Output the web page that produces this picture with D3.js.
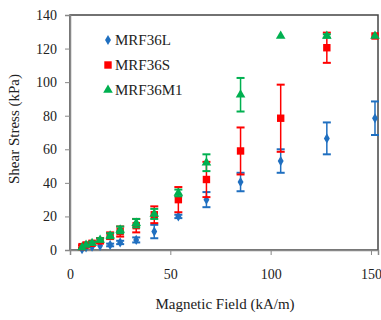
<!DOCTYPE html>
<html lang="en">
<head>
    <script src="https://cdn.jsdelivr.net/npm/d3@7"></script>
    <style>
        body { margin: 0; background: #fff; }
    </style>
</head>
<body>
<div id="chart"></div>
<script>
    // magnetic field values (kA/m)
    var field = [6, 8, 11, 15, 20, 25, 33, 42, 54, 68, 85, 105, 128, 152]

    // shear stress (kPa) and error bars for each fluid
    var mrf36L = [0.5, 1.5, 2, 2.5, 3, 4.5, 6, 11, 20, 30, 40.5, 53, 66.5, 78.5]
    var mrf36LErr = [0.5, 0.5, 0.5, 0.5, 0.8, 1, 1.5, 4, 1, 4.5, 5.5, 7, 9.5, 10]
    var mrf36S = [2, 3, 4, 5.5, 8.5, 11, 14.5, 21, 30, 42, 59, 78.5, 120.5, 127.5]
    var mrf36SErr = [0.8, 1, 1, 1.5, 2, 3, 4, 5, 7.5, 10.5, 14, 20, 9, 0.5]
    var mrf36M1 = [1.5, 3, 4, 6, 8.5, 12, 16, 21.5, 34, 52, 92.5, 127.5, 127.5, 127.5]
    var mrf36M1Err = [0.5, 0.5, 1, 1, 1.5, 2, 2.5, 3, 2, 5, 10, 0, 1, 0]

    var xTicks = [0, 50, 100, 150]
    var yTicks = [0, 20, 40, 60, 80, 100, 120, 140]

    var series = [
        {name: "MRF36L", values: mrf36L, err: mrf36LErr, color: "#1f6fc0", shape: d3.symbolDiamond, size: 30},
        {name: "MRF36S", values: mrf36S, err: mrf36SErr, color: "#ff0000", shape: d3.symbolSquare, size: 55},
        {name: "MRF36M1", values: mrf36M1, err: mrf36M1Err, color: "#00b050", shape: d3.symbolTriangle, size: 40}
    ]

    var width = 381,
        height = 320,
        plotL = 70, plotR = 378, plotT = 15, plotB = 250,
        serif = "Liberation Serif, DejaVu Serif, Times New Roman, serif"

    var svg = d3.select("#chart")
        .append("svg")
            .attr("width", width)
            .attr("height", height)
            .attr("font-family", serif)

    var x = d3.scaleLinear().domain([0, 153.5]).range([plotL, plotR])
    var y = d3.scaleLinear().domain([0, 140]).range([plotB, plotT])

    // plot frame
    svg.append("rect")
        .attr("x", plotL).attr("y", plotT)
        .attr("width", plotR - plotL).attr("height", plotB - plotT)
        .attr("fill", "none").attr("stroke", "#444").attr("stroke-width", 1.5)

    var xAxis = svg.append("g")
        .attr("transform", "translate(0," + plotB + ")")
        .call(d3.axisBottom(x).tickValues(xTicks).tickSize(5).tickPadding(14).tickFormat(d3.format("d")))
    var yAxis = svg.append("g")
        .attr("transform", "translate(" + plotL + ",0)")
        .call(d3.axisLeft(y).tickValues(yTicks).tickSize(5).tickPadding(8).tickFormat(d3.format("d")))

    ;[xAxis, yAxis].forEach(function(a) {
        a.attr("font-family", serif).attr("font-size", 14)
        a.select(".domain").attr("stroke", "#888").attr("stroke-width", 1.5)
        a.selectAll(".tick line").attr("stroke", "#888")
        a.selectAll("text").attr("fill", "#222")
    })

    // error bars + markers
    series.forEach(function(s) {
        var g = svg.append("g")
        var pts = field.map(function(f, i) { return {x: f, y: s.values[i], e: s.err[i]} })
        pts.forEach(function(p) {
            if (p.e > 0.6) {
                var cx = x(p.x)
                g.append("line")
                    .attr("x1", cx).attr("x2", cx)
                    .attr("y1", y(p.y - p.e)).attr("y2", y(p.y + p.e))
                    .attr("stroke", s.color).attr("stroke-width", 1.5)
                ;[p.y - p.e, p.y + p.e].forEach(function(v) {
                    g.append("line")
                        .attr("x1", cx - 4).attr("x2", cx + 4)
                        .attr("y1", y(v)).attr("y2", y(v))
                        .attr("stroke", s.color).attr("stroke-width", 2)
                })
            }
        })
        g.selectAll("path")
            .data(pts)
            .enter()
            .append("path")
            .attr("d", d3.symbol().type(s.shape).size(s.size))
            .attr("transform", function(d) { return "translate(" + x(d.x) + "," + y(d.y) + ")" })
            .attr("fill", s.color)
    })

    // legend
    var legend = svg.append("g").attr("transform", "translate(108,40)")
    series.forEach(function(s, i) {
        var row = legend.append("g").attr("transform", "translate(0," + i * 25 + ")")
        row.append("path")
            .attr("d", d3.symbol().type(s.shape).size(s.size))
            .attr("fill", s.color)
        row.append("text")
            .attr("x", 7).attr("y", 5)
            .attr("font-size", 15)
            .attr("fill", "#222")
            .text(s.name)
    })

    svg.append("text")
        .attr("transform", "translate(19,129) rotate(-90)")
        .attr("text-anchor", "middle")
        .attr("font-size", 15)
        .attr("fill", "#222")
        .text("Shear Stress (kPa)")

    svg.append("text")
        .attr("x", 225).attr("y", 309)
        .attr("text-anchor", "middle")
        .attr("font-size", 15)
        .attr("fill", "#222")
        .text("Magnetic Field (kA/m)")
</script>
</body>
</html>
